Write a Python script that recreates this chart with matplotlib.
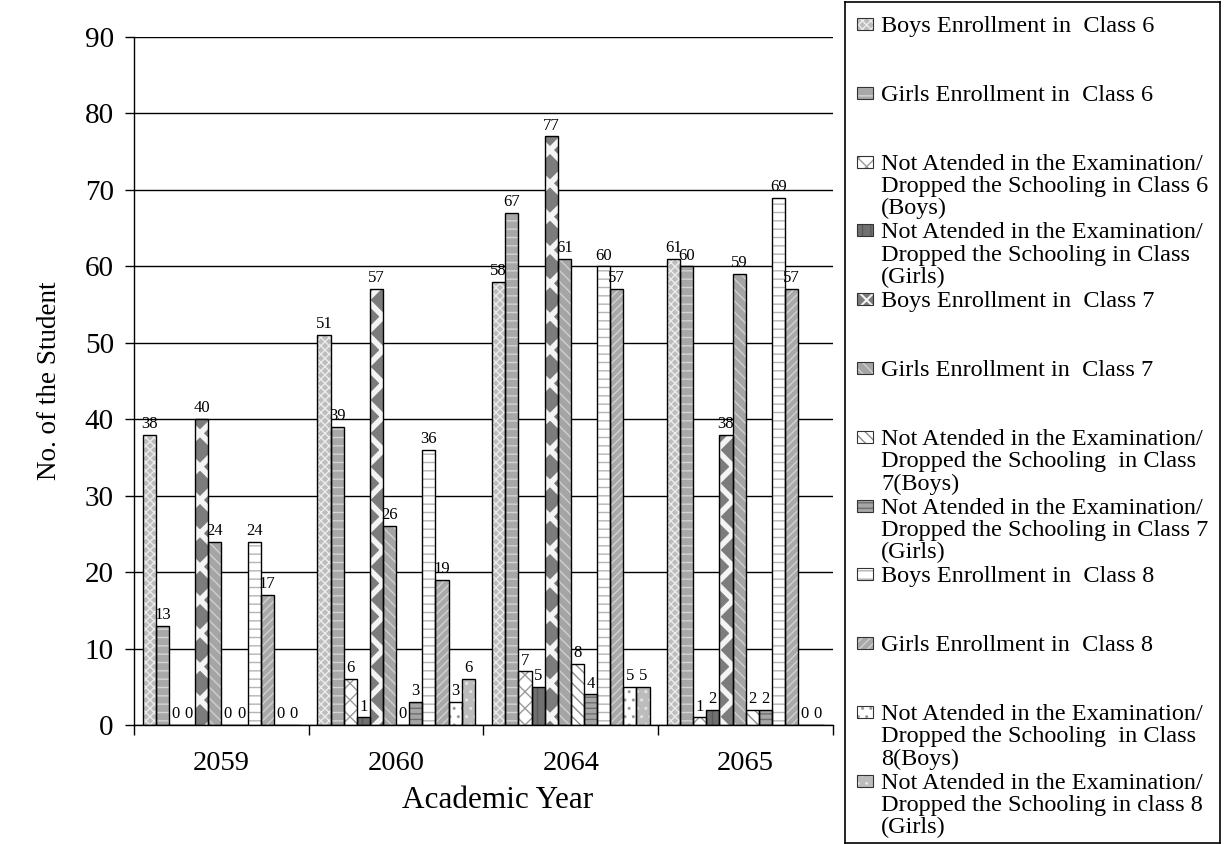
import matplotlib.pyplot as plt
import numpy as np
from matplotlib.patches import Rectangle

plt.rcParams['font.family'] = 'Liberation Serif'
plt.rcParams['hatch.linewidth'] = 1.0

years = ['2059', '2060', '2064', '2065']

# enrollment and drop-out counts per academic year
boys_c6 = [38, 51, 58, 61]
girls_c6 = [13, 39, 67, 60]
na_boys_c6 = [0, 6, 7, 1]
na_girls_c6 = [0, 1, 5, 2]
boys_c7 = [40, 57, 77, 38]
girls_c7 = [24, 26, 61, 59]
na_boys_c7 = [0, 0, 8, 2]
na_girls_c7 = [0, 3, 4, 2]
boys_c8 = [24, 36, 60, 69]
girls_c8 = [17, 19, 57, 57]
na_boys_c8 = [0, 3, 5, 0]
na_girls_c8 = [0, 6, 5, 0]

series = [boys_c6, girls_c6, na_boys_c6, na_girls_c6,
          boys_c7, girls_c7, na_boys_c7, na_girls_c7,
          boys_c8, girls_c8, na_boys_c8, na_girls_c8]

series_labels = [
    'Boys Enrollment in  Class 6',
    'Girls Enrollment in  Class 6',
    'Not Atended in the Examination/\nDropped the Schooling in Class 6\n(Boys)',
    'Not Atended in the Examination/\nDropped the Schooling in Class\n(Girls)',
    'Boys Enrollment in  Class 7',
    'Girls Enrollment in  Class 7',
    'Not Atended in the Examination/\nDropped the Schooling  in Class\n7(Boys)',
    'Not Atended in the Examination/\nDropped the Schooling in Class 7\n(Girls)',
    'Boys Enrollment in  Class 8',
    'Girls Enrollment in  Class 8',
    'Not Atended in the Examination/\nDropped the Schooling  in Class\n8(Boys)',
    'Not Atended in the Examination/\nDropped the Schooling in class 8\n(Girls)',
]

# (face, hatch, hatch colour, hatch width) for each series
styles = [
    ('#bdbdbd', 'xxxx', '#ececec', 1.0),
    ('#a8a8a8', '--', '#d4d4d4', 1.0),
    ('#ffffff', 'xx', '#9a9a9a', 1.0),
    ('#707070', '||', '#5a5a5a', 1.0),
    ('#7c7c7c', 'x', '#f4f4f4', 4.0),
    ('#a5a5a5', '\\\\\\', '#cfcfcf', 1.0),
    ('#ffffff', '\\\\\\', '#8c8c8c', 1.0),
    ('#a6a6a6', '---', '#6e6e6e', 1.0),
    ('#ffffff', '--', '#b4b4b4', 1.0),
    ('#a9a9a9', '////', '#d2d2d2', 1.0),
    ('#ffffff', '..', '#9a9a9a', 1.0),
    ('#bcbcbc', '..', '#e4e4e4', 1.0),
]


def set_hatch_width(patch, lw):
    if hasattr(patch, 'set_hatch_linewidth'):
        patch.set_hatch_linewidth(lw)


fig = plt.figure(figsize=(12.25, 8.44), dpi=100)
ax = fig.add_axes([134 / 1225, 1 - 725 / 844, 699 / 1225, 688 / 844])

width = 0.075
base = np.arange(len(years)) + 0.05
for k, vals in enumerate(series):
    face, hatch, hcol, hlw = styles[k]
    x = base + width * (k + 0.5)
    filled = ax.bar(x, vals, width, color=face, edgecolor=hcol, hatch=hatch,
                    linewidth=0, zorder=2)
    for p in filled:
        set_hatch_width(p, hlw)
    outline = ax.bar(x, vals, width, fill=False, edgecolor='black',
                     linewidth=1.0, zorder=3)
    ax.bar_label(outline, labels=[str(v) for v in vals], padding=2, fontsize=12)

ax.set_xlim(0, len(years))
ax.set_ylim(0, 90)
ax.set_yticks(range(0, 91, 10))
ax.yaxis.grid(True, color='black', linewidth=1.0)
ax.set_axisbelow(True)
ax.tick_params(axis='y', direction='out', length=6.5, width=1, pad=8, labelsize=21)

# tick marks between categories, year labels in the middle
ax.set_xticks(range(len(years) + 1))
ax.set_xticklabels([])
ax.set_xticks(np.arange(len(years)) + 0.5, minor=True)
ax.set_xticklabels(years, minor=True)
ax.tick_params(axis='x', which='major', direction='out', length=7, width=1)
ax.tick_params(axis='x', which='minor', length=0, pad=19, labelsize=20.5)

for side in ['top', 'right']:
    ax.spines[side].set_visible(False)
ax.spines['left'].set_linewidth(1.0)
ax.spines['bottom'].set_linewidth(1.0)

ax.set_ylabel('No. of the Student', fontsize=19.5)
ax.yaxis.set_label_coords(-0.103, 0.5)
ax.set_xlabel('Academic Year', fontsize=22.5, va='top')
ax.xaxis.set_label_coords(0.52, -0.088)

# boxed legend on the right
lax = fig.add_axes([845 / 1225, 1 - 843 / 844, 375 / 1225, 841 / 844])
lax.set_xlim(0, 375)
lax.set_ylim(841, 0)
lax.set_xticks([])
lax.set_yticks([])
for sp in lax.spines.values():
    sp.set_linewidth(1.2)
    sp.set_color('black')

for i, label in enumerate(series_labels):
    face, hatch, hcol, hlw = styles[i]
    yc = 22 + 68.8 * i
    sw = lax.add_patch(Rectangle((12, yc - 6), 16, 12, facecolor=face,
                                 edgecolor=hcol, hatch=hatch, linewidth=0))
    set_hatch_width(sw, min(hlw, 1.5))
    lax.add_patch(Rectangle((12, yc - 6), 16, 12, fill=False,
                            edgecolor='#333333', linewidth=0.8))
    lax.text(36, yc - 8, label, fontsize=17.5, va='top', ha='left',
             linespacing=1.08)

fig.savefig('out.png', dpi=100)
